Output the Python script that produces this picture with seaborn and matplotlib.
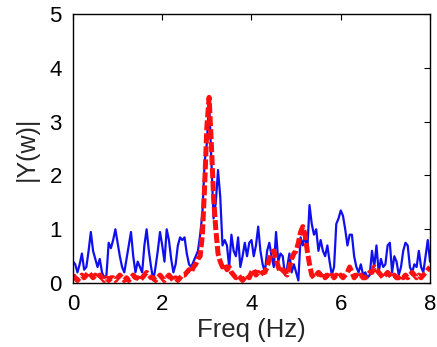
import numpy as np
import pandas as pd
import matplotlib.pyplot as plt
import seaborn as sns

# frequency grid (Hz), 0.05 Hz steps from 0 to 8
freq = np.round(np.linspace(0, 8, 161), 2)

# |Y(w)| of the noisy signal (blue, solid)
blue_vals = [
    0.4, 0.35, 0.2, 0.35, 0.55, 0.25, 0.3, 0.6, 0.95, 0.6,
    0.45, 0.3, 0.45, 0.2, 0.1, 0.15, 0.75, 0.65, 0.8, 1.0,
    0.75, 0.5, 0.3, 0.2, 0.45, 0.7, 0.95, 0.5, 0.2, 0.4,
    0.3, 0.2, 0.7, 1.0, 0.6, 0.3, 0.05, 0.3, 0.6, 0.95,
    0.7, 0.4, 1.0, 0.8, 0.45, 0.2, 0.35, 0.7, 0.85, 0.8,
    0.85, 0.55, 0.35, 0.3, 0.4, 0.5, 0.6, 0.9, 1.3, 2.25,
    2.6, 3.4, 2.3, 1.2, 1.5, 2.1, 1.6, 0.7, 0.8, 0.7,
    0.3, 0.9, 0.6, 0.5, 0.85, 0.3, 0.5, 0.75, 0.5, 0.75,
    0.8, 0.5, 0.7, 1.05, 0.6, 0.35, 0.2, 0.6, 0.75, 0.5,
    0.3, 0.95, 0.4, 0.55, 0.5, 0.15, 0.3, 0.55, 0.2, 0.35,
    0.2, 0.05, 0.85, 0.7, 0.9, 0.6, 1.45, 1.1, 0.9, 1.0,
    0.6, 0.8, 0.6, 0.5, 0.7, 0.4, 0.15, 0.3, 1.1, 1.2,
    1.35, 1.25, 1.0, 0.7, 0.9, 0.9, 0.5, 0.3, 0.2, 0.35,
    0.15, 0.2, 0.1, 0.15, 0.6, 0.3, 0.7, 0.2, 0.45, 0.3,
    0.35, 0.7, 0.75, 0.2, 0.5, 0.4, 0.15, 0.3, 0.6, 0.75,
    0.7, 0.3, 0.2, 0.35, 0.3, 0.6, 0.3, 0.2, 0.5, 0.8,
    0.4,
]

# |Y(w)| of the filtered signal (red, thick dashed)
red_vals = [
    0.15, 0.1, 0.05, 0.1, 0.15, 0.1, 0.15, 0.2, 0.15, 0.1,
    0.15, 0.1, 0.15, 0.1, 0.05, 0.1, 0.05, 0.1, 0.1, 0.05,
    0.1, 0.15, 0.1, 0.05, 0.1, 0.05, 0.1, 0.15, 0.1, 0.1,
    0.05, 0.1, 0.15, 0.2, 0.15, 0.1, 0.1, 0.05, 0.1, 0.15,
    0.1, 0.05, 0.1, 0.15, 0.1, 0.05, 0.1, 0.05, 0.1, 0.15,
    0.15, 0.2, 0.25, 0.2, 0.3, 0.35, 0.45, 0.5, 0.9, 1.8,
    2.9, 3.45, 2.6, 1.6, 1.0, 0.55, 0.4, 0.3, 0.35, 0.25,
    0.3, 0.2, 0.15, 0.1, 0.15, 0.1, 0.05, 0.1, 0.15, 0.1,
    0.2, 0.25, 0.15, 0.2, 0.15, 0.2, 0.2, 0.3, 0.45, 0.55,
    0.6, 0.45, 0.3, 0.2, 0.25, 0.2, 0.15, 0.3, 0.45, 0.55,
    0.6, 0.75, 0.95, 1.05, 0.9, 0.6, 0.35, 0.15, 0.1, 0.15,
    0.2, 0.15, 0.2, 0.1, 0.15, 0.1, 0.15, 0.1, 0.15, 0.1,
    0.15, 0.1, 0.15, 0.2, 0.3, 0.2, 0.1, 0.15, 0.1, 0.15,
    0.1, 0.1, 0.15, 0.2, 0.2, 0.3, 0.25, 0.2, 0.15, 0.1,
    0.15, 0.2, 0.15, 0.1, 0.15, 0.1, 0.1, 0.15, 0.1, 0.15,
    0.1, 0.15, 0.2, 0.15, 0.1, 0.15, 0.1, 0.15, 0.2, 0.25,
    0.3,
]

x_ticks = [0, 2, 4, 6, 8]
y_ticks = [0, 1, 2, 3, 4, 5]

sns.set_style("white")
plt.rcParams['font.family'] = ['Liberation Sans', 'DejaVu Sans']

fig = plt.figure(figsize=(4.37, 3.47), dpi=100)
ax = fig.add_axes([0.167, 0.184, 0.817, 0.776])

sns.lineplot(x=freq, y=blue_vals, color='#1010ee', linewidth=1.6, ax=ax)
sns.lineplot(x=freq, y=red_vals, color='#ff1010', linewidth=3.6,
             linestyle=(0, (2.0, 0.6)), ax=ax)

ax.set_xlim(0, 8)
ax.set_ylim(0, 5)
ax.set_xticks(x_ticks)
ax.set_yticks(y_ticks)
ax.tick_params(direction='in', length=4, width=0.8, labelsize=16,
               top=True, right=True, colors='black')
ax.tick_params(axis='x', pad=8)
ax.tick_params(axis='y', pad=8)
for s in ax.spines.values():
    s.set_color('black')
    s.set_linewidth(1.0)

ax.set_xlabel('Freq (Hz)', fontsize=18.5, labelpad=2)
ax.set_ylabel('|Y(w)|', fontsize=18, labelpad=8)

fig.savefig('out.png', dpi=100)
